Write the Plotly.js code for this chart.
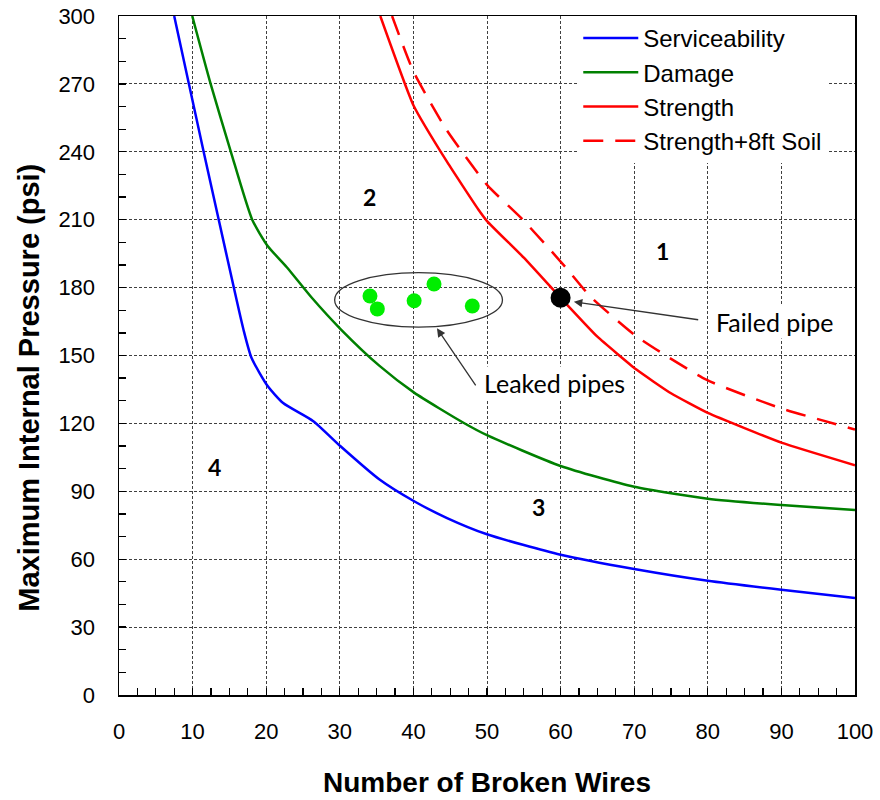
<!DOCTYPE html>
<html>
<head>
<meta charset="utf-8">
<script src="https://cdn.plot.ly/plotly-3.0.1.min.js"></script>
<style>html,body{margin:0;padding:0;background:#fff;}#chart{width:880px;height:800px;}</style>
</head>
<body>
<div id="chart"></div>
<script>
// Serviceability (blue)
const servX = [7.5, 9.5, 11.5, 13.55, 15.6, 16.9, 18.0, 20.2, 22.3, 26.4, 30.1, 35.4, 40.1, 44.5, 50, 60, 70, 80, 90, 100];
const servY = [300, 270, 240, 210, 180, 161.6, 149, 136.5, 129, 121, 109.9, 95.2, 85.6, 78.3, 71, 62, 55.7, 50.5, 46.5, 42.8];
// Damage (green)
const dmgX = [9.95, 12.45, 15.2, 18.1, 20.2, 22.8, 26.2, 30.1, 35.4, 40.1, 46.8, 50, 60, 70, 80, 90, 100];
const dmgY = [300, 270, 240, 210, 198.4, 189, 175.5, 161.7, 145.4, 133.6, 120.3, 114.8, 101.2, 92, 86.7, 83.9, 81.7];
// Strength (red solid)
const strX = [35.5, 40, 44.6, 48.8, 50, 55, 60, 65, 70.3, 75, 80, 90, 100];
const strY = [300, 260.6, 235.4, 214.6, 209.4, 193.2, 175.5, 158.3, 143.8, 133.3, 124.6, 111.5, 101.5];
// Strength + 8ft Soil (red dashed)
const soilX = [37.1, 40, 44.5, 50, 54.9, 60.6, 64, 70.3, 79.8, 90, 100];
const soilY = [300, 275.5, 249.7, 225.4, 209.9, 189.3, 176.2, 158.5, 139.3, 126.6, 117.3];
// Leaked pipes (green points)
const leakX = [34.1, 35.1, 40.1, 42.8, 48.0];
const leakY = [176.3, 170.6, 174.2, 181.6, 171.9];
// Failed pipe (black point)
const failX = [60];
const failY = [175.5];
// Tick labels
const xTicks = [0, 10, 20, 30, 40, 50, 60, 70, 80, 90, 100];
const yTicks = [0, 30, 60, 90, 120, 150, 180, 210, 240, 270, 300];
// Region labels
const regionText = ['1', '2', '3', '4'];
const regionX = [73.8, 34.0, 57.0, 13.0];
const regionY = [196.1, 220.2, 83.2, 100.9];

const AX = 'Liberation Sans, Arial, sans-serif';
const CAL = 'Lato, Carlito, Calibri, sans-serif';

const traces = [
  {x: servX, y: servY, name: 'Serviceability', mode: 'lines', line: {color: '#0000FF', width: 2.5, shape: 'spline', smoothing: 0.6}},
  {x: dmgX, y: dmgY, name: 'Damage', mode: 'lines', line: {color: '#008000', width: 2.5, shape: 'spline', smoothing: 0.6}},
  {x: strX, y: strY, name: 'Strength', mode: 'lines', line: {color: '#FF0000', width: 2.5, shape: 'spline', smoothing: 0.4}},
  {x: soilX, y: soilY, name: 'Strength+8ft Soil', mode: 'lines', line: {color: '#FF0000', width: 2.5, dash: '20px,12px', shape: 'spline', smoothing: 0.5}},
  {x: leakX, y: leakY, mode: 'markers', showlegend: false, marker: {color: '#00EE00', size: 15}},
  {x: failX, y: failY, mode: 'markers', showlegend: false, marker: {color: '#000000', size: 20}}
];

const annotations = regionText.map((t, i) => ({
  x: regionX[i], y: regionY[i], xref: 'x', yref: 'y', text: '<b>' + t + '</b>', showarrow: false,
  font: {family: CAL, size: 23, color: '#000'}
}));
annotations.push(
  {x: 59.2, y: 137.9, xref: 'x', yref: 'y', text: 'Leaked pipes', showarrow: false, bgcolor: '#FFFFFF',
   font: {family: CAL, size: 25, color: '#000'}},
  {x: 89.1, y: 164.8, xref: 'x', yref: 'y', text: 'Failed pipe', showarrow: false, bgcolor: '#FFFFFF',
   font: {family: CAL, size: 25, color: '#000'}},
  {x: 43.2, y: 162, xref: 'x', yref: 'y', ax: 48.6, ay: 136.1, axref: 'x', ayref: 'y', text: '', showarrow: true,
   arrowhead: 2, arrowsize: 1.3, arrowwidth: 1.3, arrowcolor: '#333333'},
  {x: 61.8, y: 173.7, xref: 'x', yref: 'y', ax: 78.9, ay: 165.7, axref: 'x', ayref: 'y', text: '', showarrow: true,
   arrowhead: 2, arrowsize: 1.3, arrowwidth: 1.3, arrowcolor: '#333333'}
);

const axisCommon = {
  showline: true, linecolor: '#000', linewidth: 1.5, mirror: true,
  ticks: 'inside', ticklen: 7, tickwidth: 1.3, tickcolor: '#000',
  showgrid: true, gridcolor: '#404040', gridwidth: 1, griddash: '3px,2px',
  zeroline: false, tickfont: {family: AX, size: 22, color: '#000'}
};

const layout = {
  width: 880, height: 800,
  margin: {l: 119, r: 25, t: 16, b: 105},
  paper_bgcolor: '#fff', plot_bgcolor: '#fff',
  showlegend: true,
  legend: {x: 0.624, y: 1.0, xanchor: 'left', yanchor: 'top', bgcolor: '#FFFFFF', borderwidth: 0,
           font: {family: AX, size: 24, color: '#000'}, itemwidth: 55},
  xaxis: Object.assign({}, axisCommon, {
    range: [0, 100], tickmode: 'array', tickvals: xTicks, ticktext: xTicks.map(String),
    minor: {dtick: 2.5, ticks: 'inside', ticklen: 7, tickwidth: 1.3, tickcolor: '#000', showgrid: false},
    ticklabelstandoff: 16,
    title: {text: '<b>Number of Broken Wires</b>', font: {family: AX, size: 28, color: '#000'}, standoff: 29}
  }),
  yaxis: Object.assign({}, axisCommon, {
    range: [0, 300], tickmode: 'array', tickvals: yTicks, ticktext: yTicks.map(String),
    minor: {dtick: 10, ticks: 'inside', ticklen: 7, tickwidth: 1.3, tickcolor: '#000', showgrid: false},
    ticklabelstandoff: 18,
    title: {text: '<b>Maximum Internal Pressure (psi)</b>' + '&nbsp;'.repeat(8), font: {family: AX, size: 29, color: '#000'}, standoff: 10}
  }),
  shapes: [
    {type: 'circle', xref: 'x', yref: 'y', x0: 29.3, x1: 52.1, y0: 162.5, y1: 186.6,
     line: {color: '#333333', width: 1.3}, layer: 'above'}
  ],
  annotations: annotations
};

Plotly.newPlot('chart', traces, layout, {displayModeBar: false, staticPlot: true});
</script>
</body>
</html>
